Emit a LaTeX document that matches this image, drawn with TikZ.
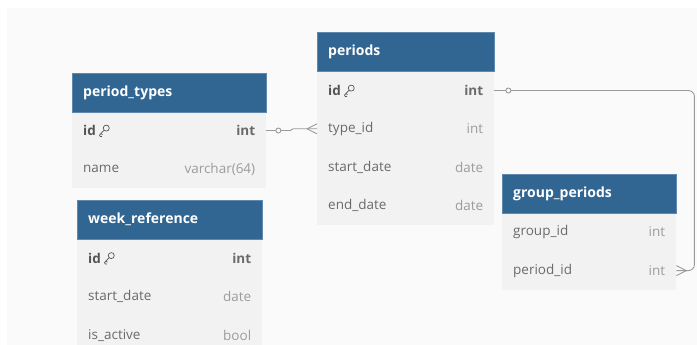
\documentclass[tikz,border=0pt]{standalone}
\usepackage{fontspec}
\setmainfont{Open Sans}
\definecolor{hdrblue}{HTML}{316592}
\definecolor{hdredge}{HTML}{5F88AE}
\definecolor{rowbg}{HTML}{F2F2F2}
\definecolor{canvas}{HTML}{FAFAFA}
\definecolor{fieldcol}{HTML}{6A6A6A}
\definecolor{keycol}{HTML}{555555}
\definecolor{typecol}{HTML}{9C9C9C}
\definecolor{conncol}{HTML}{9A9A9A}
\tikzset{
  hdr/.style={anchor=north west, fill=hdrblue, draw=hdredge, line width=0.5pt, inner sep=0pt, minimum height=39pt},
  hdrtxt/.style={anchor=west, text=white, inner sep=0pt, font=\bfseries\fontsize{14}{16}\selectfont},
  rowbox/.style={anchor=north west, fill=rowbg, inner sep=0pt, minimum height=38.6pt},
  fieldtxt/.style={anchor=west, text=fieldcol, inner sep=0pt, font=\fontsize{13.5}{15}\selectfont},
  keytxt/.style={anchor=west, text=keycol, inner sep=0pt, font=\bfseries\fontsize{13.5}{15}\selectfont},
  typetxt/.style={anchor=east, text=typecol, inner sep=0pt, font=\fontsize{13.5}{15}\selectfont},
  keytypetxt/.style={anchor=east, text=fieldcol, inner sep=0pt, font=\bfseries\fontsize{13.5}{15}\selectfont},
  conn/.style={draw=conncol, line width=0.9pt},
  keyicon/.style={draw=keycol, line width=0.7pt, line cap=round, line join=round}
}
% #1 name, #2 x, #3 y, #4 width, #5 text
\newcommand\tblhead[5]{%
  \node[hdr, minimum width=#4pt] (#1) at (#2,#3) {};
  \node[hdrtxt] (#1-t) at ([xshift=11pt]#1.west) {#5};}
% #1 name, #2 x, #3 y, #4 width, #5 field, #6 type
\newcommand\tblrow[6]{%
  \node[rowbox, minimum width=#4pt] (#1) at (#2,#3) {};
  \node[fieldtxt] (#1-f) at ([xshift=11pt]#1.west) {#5};
  \node[typetxt] (#1-ty) at ([xshift=-11pt]#1.east) {#6};}
% key row
\newcommand\tblkeyrow[6]{%
  \node[rowbox, minimum width=#4pt] (#1) at (#2,#3) {};
  \node[keytxt] (#1-f) at ([xshift=11pt]#1.west) {#5};
  \node[keytypetxt] (#1-ty) at ([xshift=-11pt]#1.east) {#6};
  \draw[keyicon] ([xshift=10.2pt,yshift=2.4pt]#1-f.east) circle (3pt);
  \draw[keyicon] ([xshift=8.1pt,yshift=0.3pt]#1-f.east) -- ([xshift=3.4pt,yshift=-4.6pt]#1-f.east)
     -- ([xshift=4.2pt,yshift=-6pt]#1-f.east) -- ([xshift=5.6pt,yshift=-6pt]#1-f.east);
  \draw[keyicon] ([xshift=5pt,yshift=-2.9pt]#1-f.east) -- ([xshift=6.4pt,yshift=-4.2pt]#1-f.east);}
\begin{document}
\begin{tikzpicture}[x=1pt,y=-1pt]
\useasboundingbox (0,0) rectangle (697,345);
\fill[white] (0,0) rectangle (697,345);
\fill[canvas] (7,8) rectangle (697,345);

% period_types
\tblrow{pt-name}{72}{149.6}{194}{name}{varchar(64)}
\tblkeyrow{pt-id}{72}{111}{194}{id}{int}
\tblhead{pt}{72}{73}{194}{period\_types}

% periods
\tblrow{p-type}{317}{109.3}{177}{type\_id}{int}
\tblrow{p-start}{317}{147.6}{177}{start\_date}{date}
\tblrow{p-end}{317}{185.9}{177}{end\_date}{date}
\tblkeyrow{p-id}{317}{71}{177}{id}{int}
\tblhead{p}{317}{32}{177}{periods}

% group_periods
\tblrow{gp-gid}{502}{212.5}{174}{group\_id}{int}
\tblrow{gp-pid}{502}{251.1}{174}{period\_id}{int}
\tblhead{gp}{502}{174}{174}{group\_periods}

% week_reference
\tblrow{wr-start}{77}{277}{185}{start\_date}{date}
\tblrow{wr-act}{77}{315.6}{185}{is\_active}{bool}
\tblkeyrow{wr-id}{77}{238.5}{185}{id}{int}
\tblhead{wr}{77}{200}{185}{week\_reference}

% connector period_types.id -> periods.type_id
\coordinate (c1) at ([xshift=12pt]pt-id.east);
\draw[conn] (pt-id.east) -- ([xshift=-2.5pt]c1);
\draw[conn] (c1) circle (2.5pt);
\draw[conn] ([xshift=2.5pt]c1) -- ([xshift=12pt]c1) -- ([xshift=-24pt]p-type.west) -- (p-type.west);
\draw[conn] ([xshift=-10pt]p-type.west) -- ([yshift=5pt]p-type.west);
\draw[conn] ([xshift=-10pt]p-type.west) -- ([yshift=-5pt]p-type.west);

% connector periods.id -> group_periods.period_id
\coordinate (c2) at ([xshift=14pt]p-id.east);
\draw[conn] (p-id.east) -- ([xshift=-2.5pt]c2);
\draw[conn] (c2) circle (2.5pt);
\draw[conn, rounded corners=6pt] ([xshift=2.5pt]c2) -| ([xshift=18pt]gp-pid.east) -- (gp-pid.east);
\draw[conn] ([xshift=10pt]gp-pid.east) -- ([yshift=5pt]gp-pid.east);
\draw[conn] ([xshift=10pt]gp-pid.east) -- ([yshift=-5pt]gp-pid.east);
\end{tikzpicture}
\end{document}
